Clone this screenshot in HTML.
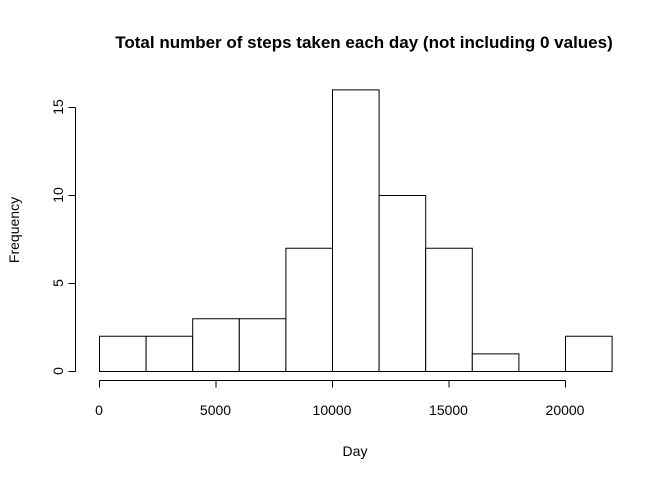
<!DOCTYPE html>
<html><head><meta charset="utf-8"><style>
html,body{margin:0;padding:0;background:#fff;}
svg{display:block;font-family:"Liberation Sans",Arial,sans-serif;}
</style></head><body>
<svg id="chart" width="672" height="480" viewBox="0 0 672 480">
<text x="364" y="48" text-anchor="middle" font-size="17" font-weight="bold">Total number of steps taken each day (not including 0 values)</text>
<text x="355" y="456" text-anchor="middle" font-size="14">Day</text>
<text transform="translate(19,230) rotate(-90)" text-anchor="middle" font-size="14">Frequency</text>
<g id="bars"></g><g id="xaxis"></g><g id="yaxis"></g>
</svg>
<script>
const binEdges = [0,2000,4000,6000,8000,10000,12000,14000,16000,18000,20000,22000];
const counts = [2,2,3,3,7,16,10,7,1,0,2];
const xTicks = [0,5000,10000,15000,20000];
const yTicks = [0,5,10,15];
const ns="http://www.w3.org/2000/svg";
function xs(v){return 99+(565-99)*v/20000;}
function ys(v){return 371-(371-107)*v/15;}
const bars=document.getElementById('bars');
counts.forEach((c,i)=>{
  const x1=xs(binEdges[i])+0.5,x2=xs(binEdges[i+1])+0.5,y0=ys(0)+0.5,y1=ys(c)+0.5;
  const p=document.createElementNS(ns,'path');
  p.setAttribute('d','M'+x1+','+y0+'L'+x1+','+y1+'L'+x2+','+y1+'L'+x2+','+y0+'Z');
  p.setAttribute('fill','#fff');p.setAttribute('stroke','#000');p.setAttribute('stroke-width','1');
  
  
  bars.appendChild(p);
});
function line(g,x1,y1,x2,y2){const l=document.createElementNS(ns,'line');l.setAttribute('x1',x1);l.setAttribute('y1',y1);l.setAttribute('x2',x2);l.setAttribute('y2',y2);l.setAttribute('stroke','#000');g.appendChild(l);}
const xa=document.getElementById('xaxis');


line(xa,xs(xTicks[0])+0.5,380.5,xs(xTicks[xTicks.length-1])+0.5,380.5);
xTicks.forEach(t=>{line(xa,xs(t)+0.5,380.5,xs(t)+0.5,387.5);
  const tx=document.createElementNS(ns,'text');tx.setAttribute('x',xs(t));tx.setAttribute('y',415);tx.setAttribute('text-anchor','middle');tx.setAttribute('font-size','14');tx.textContent=t;
  
  
  xa.appendChild(tx);});
const ya=document.getElementById('yaxis');


line(ya,75.5,ys(yTicks[0])+0.5,75.5,ys(yTicks[yTicks.length-1])+0.5);
yTicks.forEach(t=>{line(ya,68.5,ys(t)+0.5,75.5,ys(t)+0.5);
  const tx=document.createElementNS(ns,'text');tx.setAttribute('transform','translate(63,'+ys(t)+') rotate(-90)');tx.setAttribute('text-anchor','middle');tx.setAttribute('font-size','14');tx.textContent=t;
  
  
  ya.appendChild(tx);});
</script>
</body></html>
